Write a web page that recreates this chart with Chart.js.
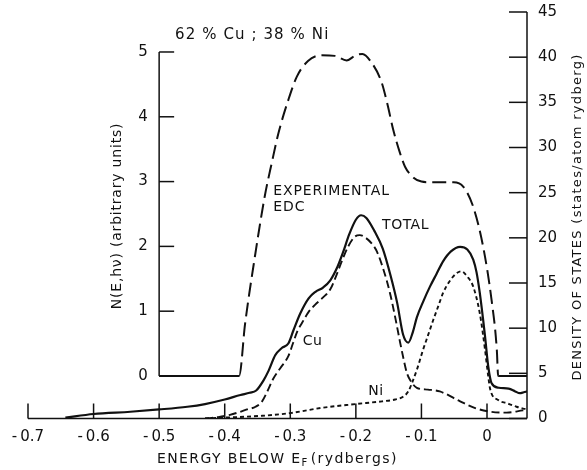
<!DOCTYPE html>
<html>
<head>
<meta charset="utf-8">
<script src="https://cdn.jsdelivr.net/npm/chart.js@4/dist/chart.umd.min.js"></script>
<style>
  html, body { margin: 0; padding: 0; background: #fff; }
  #wrap { width: 587px; height: 470px; position: relative; }
</style>
</head>
<body>
<div id="wrap"><canvas id="c" width="587" height="470"></canvas></div>
<script>
// energy below E_F (rydbergs) and density of states (states/atom rydberg)
const totalE = [-0.643, -0.6, -0.544, -0.5, -0.457, -0.43, -0.4, -0.376, -0.362, -0.352, -0.341, -0.333,
  -0.323, -0.313, -0.303, -0.295, -0.285, -0.272, -0.262, -0.25, -0.239, -0.228, -0.22, -0.21, -0.2,
  -0.192, -0.184, -0.172, -0.159, -0.147, -0.137, -0.128, -0.12, -0.113, -0.107, -0.097, -0.087,
  -0.077, -0.067, -0.055, -0.041, -0.03, -0.021, -0.016, -0.011, -0.006, -0.003, 0.002, 0.007, 0.018,
  0.033, 0.043, 0.05, 0.056, 0.061];
const totalDos = [0.1, 0.5, 0.75, 1.0, 1.3, 1.6, 2.1, 2.6, 2.85, 3.1, 4.2, 5.3,
  7.0, 7.8, 8.3, 9.8, 11.6, 13.3, 14.0, 14.5, 15.3, 16.8, 18.3, 20.4, 22.0,
  22.5, 22.2, 20.8, 18.8, 15.8, 12.8, 9.3, 8.4, 9.6, 11.2, 13.0, 14.6,
  16.0, 17.4, 18.5, 19.0, 18.7, 17.6, 16.2, 13.9, 11.0, 9.1, 5.7, 3.9, 3.4,
  3.3, 3.0, 2.8, 2.9, 3.0];

const cuE = [-0.43, -0.41, -0.392, -0.378, -0.366, -0.353, -0.343, -0.335, -0.326, -0.315, -0.303,
  -0.296, -0.289, -0.282, -0.272, -0.262, -0.25, -0.239, -0.23, -0.222, -0.212, -0.202, -0.194,
  -0.185, -0.175, -0.168, -0.158, -0.148, -0.14, -0.133, -0.127, -0.122, -0.115, -0.107, -0.09,
  -0.072, -0.041, -0.018, 0.005, 0.03, 0.055, 0.061];
const cuDos = [0, 0.15, 0.4, 0.7, 1.0, 1.3, 1.9, 3.0, 4.4, 5.6, 6.9,
  8.3, 9.7, 10.6, 11.8, 12.6, 13.4, 14.3, 15.8, 17.3, 19.0, 20.1, 20.3,
  20.0, 19.3, 18.5, 16.5, 13.9, 11.2, 8.6, 6.5, 5.0, 4.0, 3.4, 3.2,
  3.0, 1.9, 1.15, 0.75, 0.65, 0.9, 0.95];

const niE = [-0.43, -0.4, -0.343, -0.3, -0.25, -0.2, -0.16, -0.14, -0.128, -0.12, -0.114, -0.106,
  -0.098, -0.09, -0.082, -0.074, -0.067, -0.057, -0.046, -0.039, -0.03, -0.021, -0.011, -0.003,
  0.002, 0.005, 0.017, 0.03, 0.045, 0.055, 0.061];
const niDos = [0, 0.1, 0.3, 0.6, 1.2, 1.6, 1.9, 2.1, 2.4, 3.0, 4.0, 5.6,
  7.5, 9.2, 10.9, 12.5, 13.9, 15.2, 16.1, 16.3, 15.7, 14.6, 11.65, 7.6,
  4.6, 3.2, 2.05, 1.7, 1.3, 1.1, 1.05];

// experimental EDC, N(E,hv) in arbitrary units
const edcE = [-0.5, -0.378, -0.369, -0.354, -0.339, -0.328, -0.318, -0.303, -0.29, -0.273,
  -0.252, -0.232, -0.214, -0.2, -0.19, -0.177, -0.161, -0.152, -0.143, -0.133, -0.125,
  -0.112, -0.1, -0.087, -0.051, -0.036, -0.021, -0.006, 0.007, 0.015, 0.017, 0.061];
const edcN = [0, 0, 0.8, 1.84, 2.77, 3.3, 3.75, 4.26, 4.62, 4.86,
  4.95, 4.94, 4.87, 4.95, 4.97, 4.85, 4.54, 4.2, 3.8, 3.45, 3.23,
  3.06, 3.0, 2.99, 2.99, 2.92, 2.61, 2.0, 1.17, 0.4, 0, 0];

const energyTicks = [-0.7, -0.6, -0.5, -0.4, -0.3, -0.2, -0.1, 0];
const dosTicks = [0, 5, 10, 15, 20, 25, 30, 35, 40, 45];
const edcTicks = [0, 1, 2, 3, 4, 5];

const FONT = '"DejaVu Sans", "Liberation Sans", sans-serif';
const INK = '#111';

function pts(xs, ys) {
  return xs.map(function (x, i) { return { x: x, y: ys[i] }; });
}

const lastEdc = edcE.length - 2;

const axesPlugin = {
  id: 'oldAxes',
  afterDraw(chart) {
    const ctx = chart.ctx;
    const sx = chart.scales.x;
    const sy = chart.scales.y;
    const sn = chart.scales.yN;
    const area = chart.chartArea;
    const y0 = sy.getPixelForValue(0);
    ctx.save();
    ctx.strokeStyle = INK;
    ctx.fillStyle = INK;
    ctx.lineWidth = 1.5;

    // bottom energy axis
    ctx.beginPath();
    ctx.moveTo(sx.getPixelForValue(-0.7), y0);
    ctx.lineTo(area.right, y0);
    ctx.stroke();
    ctx.font = '15px ' + FONT;
    ctx.textAlign = 'center';
    ctx.textBaseline = 'middle';
    energyTicks.forEach(function (v) {
      const x = sx.getPixelForValue(v);
      ctx.beginPath();
      ctx.moveTo(x, y0);
      ctx.lineTo(x, y0 - 15);
      ctx.stroke();
      const s = v === 0 ? '0' : v.toFixed(1).replace('-', '-\u2009');
      ctx.fillText(s, x, y0 + 19);
    });

    // right density-of-states axis
    ctx.beginPath();
    ctx.moveTo(area.right, sy.getPixelForValue(45));
    ctx.lineTo(area.right, y0);
    ctx.stroke();
    ctx.textAlign = 'left';
    dosTicks.forEach(function (v) {
      const y = sy.getPixelForValue(v);
      ctx.beginPath();
      ctx.moveTo(area.right, y);
      ctx.lineTo(area.right - 18, y);
      ctx.stroke();
      ctx.fillText(String(v), area.right + 11, y);
    });

    // inner EDC axis
    const xn = sx.getPixelForValue(-0.5);
    ctx.beginPath();
    ctx.moveTo(xn, sn.getPixelForValue(5));
    ctx.lineTo(xn, sn.getPixelForValue(0));
    ctx.stroke();
    ctx.textAlign = 'center';
    edcTicks.forEach(function (v) {
      const y = sn.getPixelForValue(v);
      ctx.beginPath();
      ctx.moveTo(xn, y);
      ctx.lineTo(xn + 15, y);
      ctx.stroke();
      ctx.fillText(String(v), xn - 16, y);
    });

    // axis titles
    ctx.font = '14px ' + FONT;
    ctx.letterSpacing = '1.4px';
    ctx.textAlign = 'left';
    ctx.textBaseline = 'alphabetic';
    let tx = 157;
    const ty = 463;
    ctx.fillText('ENERGY BELOW E', tx, ty);
    tx += ctx.measureText('ENERGY BELOW E').width;
    ctx.font = '10px ' + FONT;
    ctx.fillText('F', tx, ty + 3);
    tx += ctx.measureText('F').width + 2;
    ctx.font = '14px ' + FONT;
    ctx.fillText('(rydbergs)', tx, ty);

    ctx.textAlign = 'center';
    ctx.textBaseline = 'middle';
    ctx.save();
    ctx.translate(117, 216);
    ctx.rotate(-Math.PI / 2);
    ctx.font = '14px ' + FONT;
    ctx.letterSpacing = '0.8px';
    ctx.fillText('N(E,h\u03bd) (arbitrary units)', 0, 0);
    ctx.restore();
    ctx.save();
    ctx.translate(578, 217);
    ctx.rotate(-Math.PI / 2);
    ctx.font = '13px ' + FONT;
    ctx.letterSpacing = '1.3px';
    ctx.fillText('DENSITY OF STATES (states/atom rydberg)', 0, 0);
    ctx.restore();

    // curve labels
    ctx.font = '15px ' + FONT;
    ctx.letterSpacing = '1.1px';
    ctx.textAlign = 'left';
    ctx.textBaseline = 'alphabetic';
    ctx.fillText('62 % Cu ; 38 % Ni', 175, 39);
    ctx.font = '14px ' + FONT;
    ctx.letterSpacing = '0.9px';
    ctx.fillText('EXPERIMENTAL', sx.getPixelForValue(-0.326), sn.getPixelForValue(2.79));
    ctx.fillText('EDC', sx.getPixelForValue(-0.326), sn.getPixelForValue(2.55));
    ctx.letterSpacing = '0.5px';
    ctx.textBaseline = 'middle';
    ctx.fillText('TOTAL', sx.getPixelForValue(-0.16), sy.getPixelForValue(21.4));
    ctx.fillText('Cu', sx.getPixelForValue(-0.281), sy.getPixelForValue(8.5));
    ctx.fillText('Ni', sx.getPixelForValue(-0.181), sy.getPixelForValue(3.0));
    ctx.restore();
  },
};

new Chart(document.getElementById('c'), {
  type: 'line',
  data: {
    datasets: [
      {
        label: 'Total',
        data: pts(totalE, totalDos),
        borderColor: INK,
        borderWidth: 2.2,
        yAxisID: 'y',
      },
      {
        label: 'Cu',
        data: pts(cuE, cuDos),
        borderColor: INK,
        borderWidth: 1.9,
        borderDash: [8, 4],
        yAxisID: 'y',
      },
      {
        label: 'Ni',
        data: pts(niE, niDos),
        borderColor: INK,
        borderWidth: 1.9,
        borderDash: [4, 3],
        yAxisID: 'y',
      },
      {
        label: 'Experimental EDC',
        data: pts(edcE, edcN),
        borderColor: INK,
        borderWidth: 2,
        yAxisID: 'yN',
        segment: {
          borderDash: function (c) {
            return (c.p0DataIndex === 0 || c.p0DataIndex >= lastEdc) ? [] : [14, 6];
          },
        },
      },
    ],
  },
  options: {
    responsive: false,
    animation: false,
    layout: { padding: { left: 28, right: 60, top: 12, bottom: 51.5 } },
    elements: {
      point: { radius: 0 },
      line: { cubicInterpolationMode: 'monotone', fill: false },
    },
    plugins: { legend: { display: false }, tooltip: { enabled: false } },
    scales: {
      x: { type: 'linear', min: -0.7, max: 0.061, display: false },
      y: { min: 0, max: 45, display: false },
      yN: { min: -0.656, max: 5.617, display: false },
    },
  },
  plugins: [axesPlugin],
});
</script>
</body>
</html>
